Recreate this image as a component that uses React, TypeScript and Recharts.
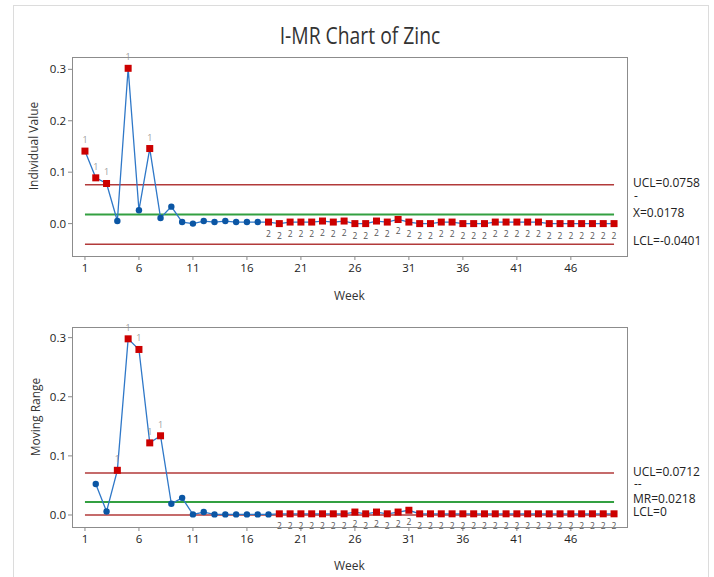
import React from 'react'
import {
  LineChart,
  Line,
  XAxis,
  YAxis,
  ReferenceLine,
  LabelList,
} from 'recharts'

// weeks (categories)
const weeks = [
  1, 2, 3, 4, 5, 6, 7, 8, 9, 10, 11, 12, 13, 14, 15, 16, 17, 18, 19, 20, 21, 22, 23, 24, 25,
  26, 27, 28, 29, 30, 31, 32, 33, 34, 35, 36, 37, 38, 39, 40, 41, 42, 43, 44, 45, 46, 47, 48, 49, 50,
]

// individual values (zinc)
const individual = [
  0.141, 0.089, 0.078, 0.005, 0.302, 0.026, 0.146, 0.011, 0.033, 0.003,
  0.0, 0.005, 0.003, 0.005, 0.003, 0.003, 0.003, 0.003, 0.0, 0.003,
  0.003, 0.003, 0.005, 0.003, 0.005, 0.0, 0.0, 0.005, 0.003, 0.008,
  0.003, 0.0, 0.0, 0.003, 0.003, 0.0, 0.0, 0.0, 0.003, 0.003,
  0.003, 0.003, 0.003, 0.0, 0.0, 0.0, 0.0, 0.0, 0.0, 0.0,
]

// moving ranges (no value for week 1)
const movingRange = [
  null, 0.0525, 0.006, 0.0756, 0.298, 0.28, 0.122, 0.134, 0.019, 0.029,
  0.001, 0.005, 0.001, 0.001, 0.001, 0.001, 0.001, 0.001, 0.002, 0.002,
  0.002, 0.002, 0.002, 0.002, 0.002, 0.005, 0.002, 0.005, 0.002, 0.005,
  0.008, 0.002, 0.002, 0.002, 0.002, 0.002, 0.002, 0.002, 0.002, 0.002,
  0.002, 0.002, 0.002, 0.002, 0.002, 0.002, 0.002, 0.002, 0.002, 0.002,
]

// failed tests (Minitab test 1 / test 2)
const iTest1 = [1, 2, 3, 5, 7]
const iTest2From = 18
const mrTest1 = [4, 5, 6, 7, 8]
const mrTest2From = 19

// control limits
const I_UCL = 0.0758
const I_CL = 0.0178
const I_LCL = -0.0401
const MR_UCL = 0.0712
const MR_CL = 0.0218
const MR_LCL = 0

const xTicks = [1, 6, 11, 16, 21, 26, 31, 36, 41, 46]
const yTicks = [0, 0.1, 0.2, 0.3]

const iData = weeks.map((w, i) => ({
  week: w,
  value: individual[i],
  t1: iTest1.includes(w),
  t2: w >= iTest2From,
}))
const mrData = weeks.map((w, i) => ({
  week: w,
  value: movingRange[i],
  t1: mrTest1.includes(w),
  t2: w >= mrTest2From,
}))

const FONT = '"Open Sans", sans-serif'
const RED = '#cc0000'
const BLUE = '#0b56a4'
const LINE = '#2f78c8'
const LIMIT = '#b23a3a'
const CENTER = '#33a041'

const Marker = (props: any) => {
  const { cx, cy, payload } = props
  if (cx == null || cy == null || payload.value == null) return null
  if (payload.t1 || payload.t2) {
    return <rect key={'m' + payload.week} x={cx - 3.5} y={cy - 3.5} width={7} height={7} fill={RED} />
  }
  return <circle key={'m' + payload.week} cx={cx} cy={cy} r={3.2} fill={BLUE} />
}

const makeFlag = (data: any[]) => (props: any) => {
  const { x, y, index } = props
  const d = data[index]
  if (!d || d.value == null) return null
  if (d.t1) {
    return (
      <text x={x} y={y - 8} textAnchor="middle" fontSize={9} fill="#a0a0a0" fontFamily={FONT}>
        1
      </text>
    )
  }
  if (d.t2) {
    return (
      <text x={x} y={y + 15} textAnchor="middle" fontSize={8.5} fill="#555" fontFamily={FONT}>
        2
      </text>
    )
  }
  return null
}

const tickStyle = { fontSize: 11.5, fill: '#222', fontFamily: FONT }

function Panel({
  data,
  domain,
  ucl,
  cl,
  lcl,
  top,
  height,
  margin,
}: {
  data: any[]
  domain: [number, number]
  ucl: number
  cl: number
  lcl: number
  top: number
  height: number
  margin: { top: number; right: number; bottom: number; left: number }
}) {
  return (
    <div style={{ position: 'absolute', left: 0, top, width: 714, height }}>
      <LineChart width={714} height={height} data={data} margin={margin}>
        <XAxis
          dataKey="week"
          type="number"
          domain={[-0.2, 51.2]}
          ticks={xTicks}
          tick={tickStyle}
          tickSize={4}
          tickMargin={4}
          height={30}
          axisLine={false}
          stroke="#888"
          allowDataOverflow
        />
        <YAxis
          type="number"
          domain={domain}
          ticks={yTicks}
          tickFormatter={(v: number) => v.toFixed(1)}
          tick={tickStyle}
          tickSize={4}
          tickMargin={2}
          width={50}
          axisLine={false}
          stroke="#888"
          allowDataOverflow
        />
        <ReferenceLine segment={[{ x: 1, y: ucl }, { x: 50, y: ucl }]} stroke={LIMIT} strokeWidth={1.5} />
        <ReferenceLine segment={[{ x: 1, y: cl }, { x: 50, y: cl }]} stroke={CENTER} strokeWidth={2} />
        <ReferenceLine segment={[{ x: 1, y: lcl }, { x: 50, y: lcl }]} stroke={LIMIT} strokeWidth={1.5} />
        <Line
          dataKey="value"
          stroke={LINE}
          strokeWidth={1.3}
          dot={<Marker />}
          activeDot={false}
          isAnimationActive={false}
          connectNulls={false}
        >
          <LabelList dataKey="value" content={makeFlag(data)} />
        </Line>
      </LineChart>
    </div>
  )
}

const label = (text: string, left: number, top: number, extra: React.CSSProperties = {}) => (
  <div
    style={{
      position: 'absolute',
      left,
      top,
      fontSize: 12,
      lineHeight: '12px',
      color: '#222',
      fontFamily: FONT,
      whiteSpace: 'nowrap',
      ...extra,
    }}
  >
    {text}
  </div>
)

export default function App() {
  return (
    <div
      style={{
        position: 'absolute',
        left: 0,
        top: 0,
        width: 714,
        height: 577,
        background: '#fff',
        overflow: 'hidden',
      }}
    >
      <div
        style={{
          position: 'absolute',
          left: 13,
          top: 5,
          width: 694,
          height: 620,
          border: '1px solid #dcdcdc',
        }}
      />
      <div
        style={{
          position: 'absolute',
          left: 0,
          width: 714,
          top: 20,
          textAlign: 'center',
          fontSize: 23,
          lineHeight: '30px',
          color: '#333',
          fontFamily: FONT,
          transform: 'translateX(3px) scaleX(0.84)',
          transformOrigin: '357px 0',
        }}
      >
        I-MR Chart of Zinc
      </div>

      <Panel
        data={iData}
        domain={[-0.063, 0.324]}
        ucl={I_UCL}
        cl={I_CL}
        lcl={I_LCL}
        top={0}
        height={300}
        margin={{ top: 57, right: 87, bottom: 14, left: 22 }}
      />
      <Panel
        data={mrData}
        domain={[-0.0203, 0.318]}
        ucl={MR_UCL}
        cl={MR_CL}
        lcl={MR_LCL}
        top={300}
        height={277}
        margin={{ top: 27, right: 87, bottom: 20, left: 22 }}
      />

      {/* plot frames */}
      <div style={{ position: 'absolute', left: 72, top: 57, width: 554, height: 198, border: '1.5px solid #8c8c8c', pointerEvents: 'none' }} />
      <div style={{ position: 'absolute', left: 72, top: 327, width: 554, height: 199, border: '1.5px solid #8c8c8c', pointerEvents: 'none' }} />

      {/* axis titles */}
      {label('Week', 334, 290, { color: '#333' })}
      {label('Week', 334, 560, { color: '#333' })}
      {label('Individual Value', -14, 140, { transform: 'rotate(-90deg)', width: 96, textAlign: 'center', color: '#333' })}
      {label('Moving Range', -4, 411, { transform: 'rotate(-90deg)', width: 80, textAlign: 'center', color: '#333' })}

      {/* control limit labels */}
      {label('UCL=0.0758', 633, 177)}
      {label('-', 634, 192, { lineHeight: '8px' })}
      {label('X=0.0178', 633, 207)}
      {label('LCL=-0.0401', 633, 235)}
      {label('UCL=0.0712', 633, 466)}
      {label('--', 634, 480, { lineHeight: '8px' })}
      {label('MR=0.0218', 633, 493)}
      {label('LCL=0', 633, 506)}
    </div>
  )
}
